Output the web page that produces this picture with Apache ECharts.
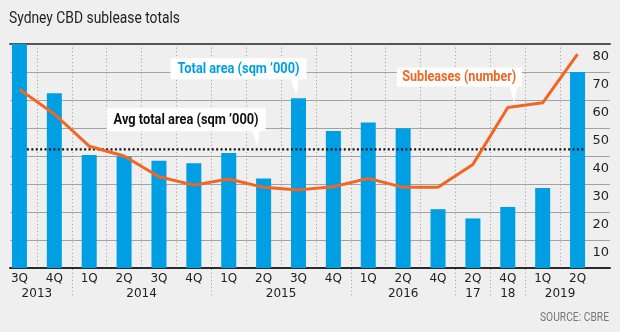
<!DOCTYPE html>
<html>
<head>
<meta charset="utf-8">
<script src="https://cdn.jsdelivr.net/npm/echarts@6/dist/echarts.min.js"></script>
<style>
  html, body { margin: 0; padding: 0; background: #efefef; }
  #chart { width: 620px; height: 332px; }
</style>
</head>
<body>
<div id="chart"></div>
<script>
// Quarter labels and the year row shown under them
const quarters = ['3Q', '4Q', '1Q', '2Q', '3Q', '4Q', '1Q', '2Q', '3Q', '4Q', '1Q', '2Q', '4Q', '2Q', '4Q', '1Q', '2Q'];
const yearLabels = ['2013', '2013', '2014', '2014', '2014', '2014', '2015', '2015', '2015', '2015',
                    '2016', '2016', '2016', '17', '18', '2019', '2019'];

// Total sublease area, sqm '000
const totalArea = [80, 62.4, 40.4, 39.8, 38.3, 37.4, 41.1, 32.0, 60.6, 48.9, 52.0, 49.9, 21.0, 17.7, 21.8, 28.6, 70.0];
// Number of subleases
const subleases = [63.8, 55.0, 43.5, 40.0, 32.6, 29.6, 31.8, 28.8, 27.9, 29.0, 32.0, 28.8, 28.8, 37.0, 57.3, 59.0, 76.4];
// Average total area
const avgTotalArea = 42.4;

// Value scale
const yMin = 0, yMax = 80, yStep = 10;

const categories = quarters.map((q, i) => q + ' ' + yearLabels[i]);

const BLUE = '#009fe3';
const ORANGE = '#f26522';
const BAR_W = 15;
const SANS = 'Roboto, "Noto Sans", sans-serif';
const AXIS_FONT = '"DejaVu Sans", sans-serif';

// Horizontal squeeze factor so a string set in `font` spans `width` pixels
const measureCtx = document.createElement('canvas').getContext('2d');
function squeeze(text, font, width) {
  measureCtx.font = font;
  return width / measureCtx.measureText(text).width;
}

const chart = echarts.init(document.getElementById('chart'), null, { renderer: 'canvas' });

const option = {
  backgroundColor: '#efefef',
  animation: false,
  grid: [
    // plotting area for bars and lines
    { left: 2, right: 25, top: 44, bottom: 64 },
    // frame with gridlines and value labels
    { left: 10, right: 10, top: 44, bottom: 64 }
  ],
  xAxis: [
    {
      type: 'category', gridIndex: 0, data: categories, boundaryGap: true,
      axisLine: { show: false }, axisTick: { show: false },
      axisLabel: {
        formatter: (v, i) => quarters[i], interval: 0, margin: 5,
        fontFamily: AXIS_FONT, fontSize: 12, color: '#222'
      },
      splitLine: {
        show: true, showMinLine: false, showMaxLine: false,
        lineStyle: { color: '#9a9a9a', width: 1, type: [1, 2.6] }
      }
    },
    {
      type: 'category', gridIndex: 1, data: [''], position: 'bottom',
      axisLine: { show: true, lineStyle: { color: '#2a2a2a', width: 2 } },
      axisTick: { show: false }, axisLabel: { show: false }
    },
    {
      type: 'category', gridIndex: 1, data: [''], position: 'top',
      axisLine: { show: true, lineStyle: { color: '#555', width: 2 } },
      axisTick: { show: false }, axisLabel: { show: false }
    }
  ],
  yAxis: [
    {
      type: 'value', gridIndex: 0, min: yMin, max: yMax, interval: yStep,
      show: false
    },
    {
      type: 'value', gridIndex: 1, min: yMin, max: yMax, interval: yStep, position: 'right',
      axisLine: { show: false }, axisTick: { show: false },
      splitLine: { show: true, lineStyle: { color: '#a3a3a3', width: 1 } },
      axisLabel: {
        inside: true, margin: 1, showMinLabel: false,
        verticalAlign: 'top', padding: [6, 0, 0, 0],
        fontFamily: AXIS_FONT, fontSize: 13, color: '#222'
      }
    }
  ],
  series: [
    {
      name: 'Total area (sqm \u2019000)', type: 'bar', xAxisIndex: 0, yAxisIndex: 0,
      data: totalArea, barWidth: BAR_W, itemStyle: { color: BLUE }, z: 2
    },
    {
      // average line spans from the first bar's right edge to the last bar's right edge
      name: 'Avg total area (sqm \u2019000)', type: 'custom', xAxisIndex: 0, yAxisIndex: 0,
      data: [[0, avgTotalArea]], z: 3, clip: false,
      renderItem: function (params, api) {
        const v = api.value(1);
        const p0 = api.coord([0, v]);
        const p1 = api.coord([categories.length - 1, v]);
        return {
          type: 'line',
          shape: { x1: p0[0] + BAR_W / 2, y1: p0[1], x2: p1[0] + BAR_W / 2, y2: p1[1] },
          style: { stroke: '#111', lineWidth: 2.2, lineDash: [2, 2.4], lineCap: 'butt' }
        };
      }
    },
    {
      name: 'Subleases (number)', type: 'line', xAxisIndex: 0, yAxisIndex: 0,
      data: subleases, showSymbol: false, symbol: 'none',
      lineStyle: { color: ORANGE, width: 3 }, z: 4
    }
  ]
};

chart.setOption(option);

function px(idx, val) {
  return chart.convertToPixel({ xAxisIndex: 0, yAxisIndex: 0 }, [idx, val]);
}

const graphics = [];

// Condensed text: drawn in a normal face and squeezed horizontally
function narrowText(text, font, x, y, width, fill, align, z) {
  const sx = squeeze(text, font, width);
  graphics.push({
    type: 'text', x: x, y: y, scaleX: sx, z: z || 10,
    style: { text: text, font: font, fill: fill, textAlign: align, textVerticalAlign: 'middle' }
  });
}

// Title
narrowText('Sydney CBD sublease totals', '17px ' + SANS, 9, 19, 171, '#222', 'left');

// Second label row (years) plus the dotted separators between year groups
const groups = [];
yearLabels.forEach((y, i) => {
  const g = groups[groups.length - 1];
  if (!g || g.label !== y) groups.push({ label: y, first: i, last: i });
  else g.last = i;
});

const baseY = px(0, 0)[1];
groups.forEach((g, k) => {
  const cx = (px(g.first, 0)[0] + px(g.last, 0)[0]) / 2;
  graphics.push({
    type: 'text', x: cx, y: baseY + 26, z: 10,
    style: {
      text: g.label, fill: '#222', font: '12px ' + AXIS_FONT,
      textAlign: 'center', textVerticalAlign: 'middle'
    }
  });
  if (k < groups.length - 1) {
    const sx = Math.round((px(g.last, 0)[0] + px(g.last + 1, 0)[0]) / 2) + 0.5;
    graphics.push({
      type: 'line', z: 10,
      shape: { x1: sx, y1: baseY + 1, x2: sx, y2: baseY + 29 },
      style: { stroke: '#9a9a9a', lineWidth: 1, lineDash: [1, 2.6] }
    });
  }
});

// Callout boxes with a pointer to the mark they describe
function callout(cfg) {
  const a = cfg.anchor;
  const bx = a[0] + cfg.dx, by = a[1] + cfg.dy;
  const tip = [a[0] + cfg.tip[0], a[1] + cfg.tip[1]];
  graphics.push({
    type: 'rect', z: 20,
    shape: { x: bx, y: by, width: cfg.w, height: cfg.h },
    style: { fill: '#fff' }
  });
  graphics.push({
    type: 'polygon', z: 20,
    shape: { points: [[bx + cfg.w - cfg.pb[0], by + cfg.h - 0.5], [bx + cfg.w - cfg.pb[1], by + cfg.h - 0.5], tip] },
    style: { fill: '#fff' }
  });
  narrowText(cfg.text, 'bold 14px ' + SANS, bx + cfg.w / 2, by + cfg.h / 2 + 0.5, cfg.tw, cfg.color, 'center', 21);
}

callout({
  text: 'Total area (sqm \u2019000)', color: BLUE,
  anchor: px(8, totalArea[8]), dx: -128, dy: -40, w: 136, h: 21, tw: 122,
  pb: [16, 8], tip: [-2, -3]
});
callout({
  text: 'Avg total area (sqm \u2019000)', color: '#111',
  anchor: px(7, avgTotalArea), dx: -157, dy: -41, w: 159, h: 23, tw: 145,
  pb: [14, 6], tip: [-6, -3]
});
callout({
  text: 'Subleases (number)', color: ORANGE,
  anchor: px(14, subleases[14]), dx: -111, dy: -40, w: 125, h: 19, tw: 114,
  pb: [12, 4], tip: [6, -4]
});

// Source note
narrowText('SOURCE: CBRE', '12px ' + SANS, 609, 318, 69, '#777', 'right');

chart.setOption({ graphic: graphics });
</script>
</body>
</html>
